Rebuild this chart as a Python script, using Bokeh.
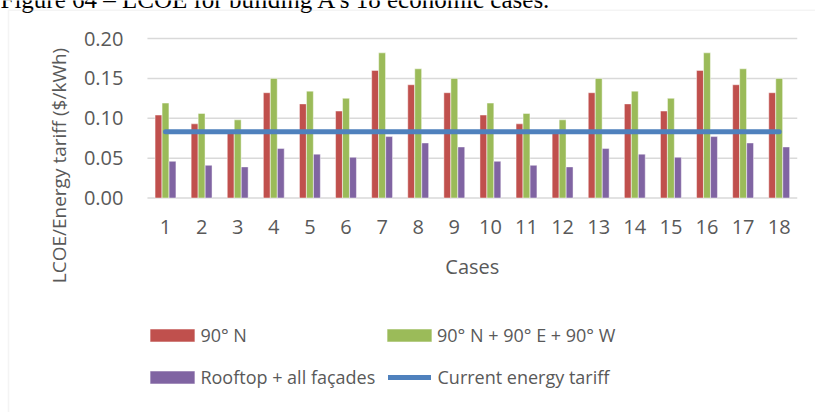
from math import pi
from bokeh.plotting import figure
from bokeh.models import (Range1d, FixedTicker, Legend, LegendItem, Label,
                          BoxAnnotation, ColumnDataSource)
from bokeh.transform import dodge
from bokeh.embed import file_html
from bokeh.resources import INLINE

# ---- data ----
cases = [1, 2, 3, 4, 5, 6, 7, 8, 9, 10, 11, 12, 13, 14, 15, 16, 17, 18]
case_labels = ["1", "2", "3", "4", "5", "6", "7", "8", "9", "10", "11", "12",
               "13", "14", "15", "16", "17", "18"]
north = [0.104, 0.093, 0.083, 0.132, 0.118, 0.109, 0.160, 0.142, 0.132,
         0.104, 0.093, 0.083, 0.132, 0.118, 0.109, 0.160, 0.142, 0.132]
north_east_west = [0.119, 0.106, 0.098, 0.150, 0.134, 0.125, 0.182, 0.162, 0.150,
                   0.119, 0.106, 0.098, 0.150, 0.134, 0.125, 0.182, 0.162, 0.150]
rooftop_all = [0.046, 0.041, 0.039, 0.062, 0.055, 0.051, 0.077, 0.069, 0.064,
               0.046, 0.041, 0.039, 0.062, 0.055, 0.051, 0.077, 0.069, 0.064]
tariff = [0.083, 0.083, 0.083, 0.083, 0.083, 0.083, 0.083, 0.083, 0.083,
          0.083, 0.083, 0.083, 0.083, 0.083, 0.083, 0.083, 0.083, 0.083]
y_ticks = [0.0, 0.05, 0.10, 0.15, 0.20]
y_tick_labels = ["0.00", "0.05", "0.10", "0.15", "0.20"]
series_names = ["90° N", "90° N + 90° E + 90° W", "Rooftop + all façades",
                "Current energy tariff"]
x_title = "Cases"
y_title = "LCOE/Energy tariff ($/kWh)"
caption = "Figure 64 – LCOE for building A's 18 economic cases."

# ---- layout (pixels) ----
FW, FH = 815, 412
PX_X = 36.1           # pixels per case
X0_PX = 165.0         # pixel centre of the first case
PX_Y = 797.5          # pixels per unit of LCOE
Y0_PX = 197.5         # pixel row of value 0

x_start = cases[0] - X0_PX / PX_X
y_end = Y0_PX / PX_Y

FONT = "Open Sans"
TXT = "#595959"
RED, GREEN, PURPLE, BLUE = "#C0504D", "#9BBB59", "#8064A2", "#4F81BD"
GRID = "#D9D9D9"

src = ColumnDataSource(dict(x=cases, north=north, new=north_east_west,
                            roof=rooftop_all, tariff=tariff))

p = figure(width=FW, height=FH, output_backend="svg", toolbar_location=None,
           x_range=Range1d(x_start, x_start + FW / PX_X),
           y_range=Range1d(y_end - FH / PX_Y, y_end),
           min_border=0, min_border_left=0, min_border_right=0,
           min_border_top=0, min_border_bottom=0)
p.outline_line_color = None
p.background_fill_color = "white"
p.border_fill_color = "white"
p.xgrid.grid_line_color = None
p.ygrid.grid_line_color = None

# horizontal gridlines over the case span
x_lo, x_hi = cases[0] - 0.5, cases[-1] + 0.5
p.segment(x0=[x_lo] * len(y_ticks), x1=[x_hi] * len(y_ticks), y0=y_ticks, y1=y_ticks,
          line_color=GRID, line_width=1.5)

bw = 0.19
off = 0.194
r1 = p.vbar(x=dodge("x", -off, range=p.x_range), top="north", width=bw, source=src,
            fill_color=RED, line_color="white", line_alpha=0.45, line_width=1)
r2 = p.vbar(x=dodge("x", 0.0, range=p.x_range), top="new", width=bw, source=src,
            fill_color=GREEN, line_color="white", line_alpha=0.45, line_width=1)
r3 = p.vbar(x=dodge("x", off, range=p.x_range), top="roof", width=bw, source=src,
            fill_color=PURPLE, line_color="white", line_alpha=0.45, line_width=1)
r4 = p.line(x="x", y="tariff", source=src, line_color=BLUE, line_width=5,
            line_cap="round")

# axes drawn at fixed data locations
p.xaxis.fixed_location = 0
p.yaxis.fixed_location = x_lo
p.xaxis.ticker = FixedTicker(ticks=cases)
p.xaxis.major_label_overrides = {c: l for c, l in zip(cases, case_labels)}
p.yaxis.ticker = FixedTicker(ticks=y_ticks)
p.yaxis.major_label_overrides = {t: l for t, l in zip(y_ticks, y_tick_labels)}
for ax in (p.xaxis, p.yaxis):
    ax.axis_line_color = None
    ax.major_tick_line_color = None
    ax.minor_tick_line_color = None
    ax.major_tick_out = 0
    ax.major_tick_in = 0
    ax.minor_tick_out = 0
    ax.minor_tick_in = 0
    ax.major_label_text_font = FONT
    ax.major_label_text_font_size = "20px"
    ax.major_label_text_color = TXT
p.xaxis.major_label_standoff = 22
p.yaxis.major_label_standoff = 24

# axis titles
p.add_layout(Label(x=(cases[0] + cases[-1]) / 2, y=FH - 266, x_units="data",
                   y_units="screen", text=x_title, text_align="center",
                   text_baseline="middle", text_font=FONT, text_font_size="20px",
                   text_color=TXT))
p.add_layout(Label(x=58, y=FH - 165, x_units="screen", y_units="screen",
                   text=y_title, angle=pi / 2, text_align="center",
                   text_baseline="middle", text_font=FONT, text_font_size="19px",
                   text_color=TXT))

# caption remnant at the very top and the chart border
p.add_layout(Label(x=0, y=FH + 0.6, x_units="screen", y_units="screen", text=caption,
                   text_align="left", text_baseline="alphabetic",
                   text_font="Liberation Serif", text_font_size="25px",
                   text_color="black"))
p.add_layout(BoxAnnotation(left=8, right=FW + 20, top=FH - 9.7, bottom=-20,
                           left_units="screen", right_units="screen",
                           top_units="screen", bottom_units="screen",
                           fill_alpha=0, line_color=GRID, line_width=1.5))

# legends: one per entry, positioned like the reference
def add_legend(label, renderer, vx, vy, gw, standoff):
    lg = Legend(items=[LegendItem(label=label, renderers=[renderer])],
                location=(vx, vy), glyph_width=gw, glyph_height=16,
                label_standoff=standoff, spacing=0, padding=0, margin=0,
                border_line_color=None, background_fill_alpha=0,
                label_text_font=FONT, label_text_font_size="18px",
                label_text_color=TXT, label_height=22)
    p.add_layout(lg, "center")

ROW1, ROW2 = FH - 347, FH - 389
add_legend(series_names[0], r1, 144.4, ROW1, 56, 0)
add_legend(series_names[1], r2, 381, ROW1, 56, 0)
add_legend(series_names[2], r3, 144.4, ROW2, 56, 0)
add_legend(series_names[3], r4, 387.5, ROW2, 43, 7)

open("out.html", "w").write(file_html(p, INLINE))
